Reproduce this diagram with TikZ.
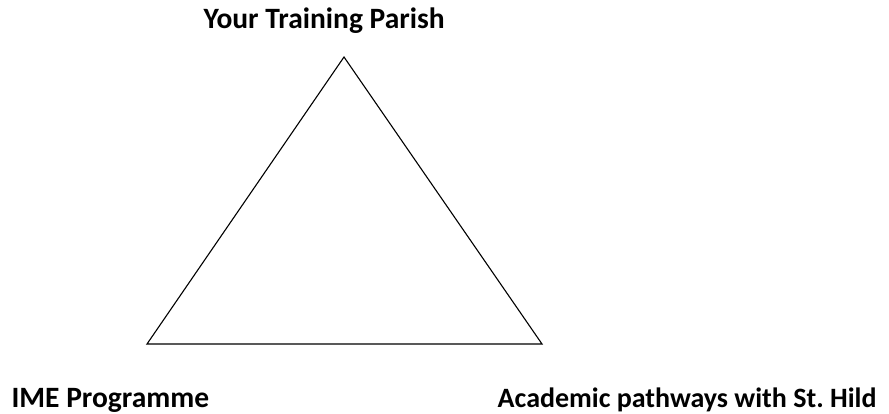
\documentclass[tikz,border=0pt]{standalone}
\usepackage{fontspec}
\setmainfont{Carlito}
\usepackage{tikz}
\usetikzlibrary{calc}

\tikzset{
  corner label/.style={font=\bfseries\fontsize{29.5}{34}\selectfont, inner sep=0pt, anchor=base west},
  wide label/.style={corner label, font=\bfseries\fontsize{28}{32}\selectfont, anchor=base east}
}

\begin{document}
\begin{tikzpicture}[x=1pt, y=-1pt, line width=1.1pt]
  % Frame of the picture
  \useasboundingbox (0,0) rectangle (889,414);

  % Corners of the triangle
  \coordinate (parish) at (344, 57);
  \coordinate (ime) at (147, 344);
  \coordinate (academic) at (542, 344);

  % Triangle
  \draw (parish) -- (ime) -- (academic) -- cycle;

  % Labels
  \node[corner label] (parishlabel) at (203, 29) {Your Training Parish};
  \node[corner label] (imelabel) at (11, 407) {IME Programme};
  \node[wide label] (academiclabel) at (877, 407) {Academic pathways with St.\ Hild};
\end{tikzpicture}
\end{document}
